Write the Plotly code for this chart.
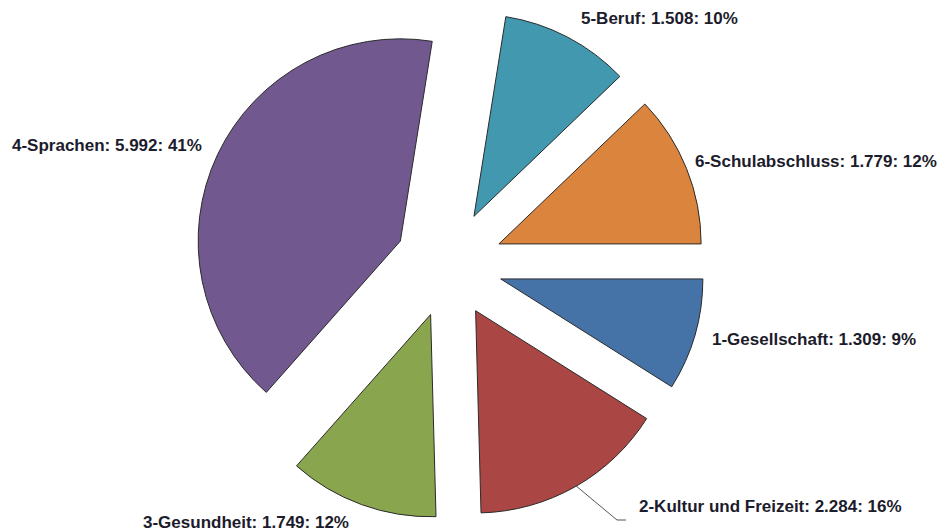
"""
Exploded pie chart of course counts per programme area.
"""
import plotly.graph_objects as go

categories = [
    "1-Gesellschaft",
    "2-Kultur und Freizeit",
    "3-Gesundheit",
    "4-Sprachen",
    "5-Beruf",
    "6-Schulabschluss",
]
values = [1309, 2284, 1749, 5992, 1508, 1779]
colors = ["#4572A7", "#AA4643", "#89A54E", "#71588F", "#4198AF", "#DB843D"]

# label anchor points in pixels of the page (left edge, vertical centre)
label_pos = [(710, 340), (637, 506), (141, 522), (10, 145), (579, 19), (693, 161)]

OFF = 8  # default body margin of the html page
W, H = 947 - OFF, 532 - OFF


def _de_num(v: int) -> str:
    """German thousands separator."""
    return f"{v:,}".replace(",", ".")


def _paper(px, py):
    return (px - OFF) / W, 1 - (py - OFF) / H


total = sum(values)
label_text = [
    f"{c}: {_de_num(v)}: {round(v / total * 100)}%"
    for c, v in zip(categories, values)
]

fig = go.Figure(go.Pie(
    labels=categories,
    values=values,
    sort=False,
    direction="clockwise",
    rotation=90,
    pull=[0.266] * len(values),
    marker={"colors": colors, "line": {"color": "#2b2b2b", "width": 1}},
    textinfo="none",
    hoverinfo="label+value+percent",
    showlegend=False,
    domain={"x": [0, 0.9393], "y": [0.0229, 1.0]},
))

annotations = []
for txt, (px, py) in zip(label_text, label_pos):
    x, y = _paper(px, py)
    annotations.append({
        "text": f"<b>{txt}</b>",
        "xref": "paper", "yref": "paper",
        "x": x, "y": y,
        "xanchor": "left", "yanchor": "middle",
        "showarrow": False,
        "font": {"family": "Liberation Sans, Arial, sans-serif", "size": 17, "color": "#1c1c2c"},
    })

# leader line for the "Kultur und Freizeit" label
leader = [_paper(575, 485), _paper(617, 520), _paper(626, 520)]
path = "M " + " L ".join(f"{x} {y}" for x, y in leader)

fig.update_layout(
    width=W,
    height=H,
    margin={"l": 0, "r": 0, "t": 0, "b": 0},
    annotations=annotations,
    shapes=[{
        "type": "path", "path": path,
        "xref": "paper", "yref": "paper",
        "line": {"color": "#555555", "width": 1},
    }],
    plot_bgcolor="white",
    paper_bgcolor="white",
)

fig.write_html("out.html")
